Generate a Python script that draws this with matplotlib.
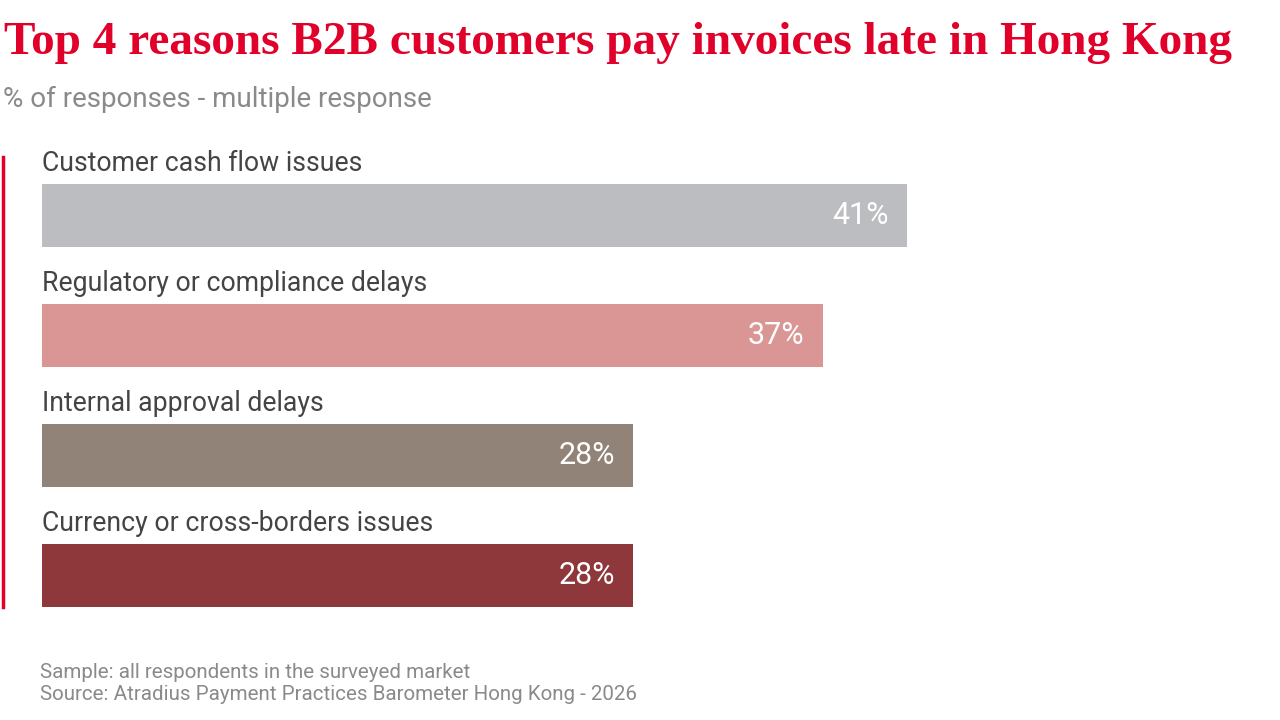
import matplotlib.pyplot as plt
from matplotlib.lines import Line2D

plt.rcParams['font.family'] = ['Roboto', 'DejaVu Sans']

reasons = ['Customer cash flow issues', 'Regulatory or compliance delays',
           'Internal approval delays', 'Currency or cross-borders issues']
values = [41, 37, 28, 28]
bar_colors = ['#bcbdc0', '#d99694', '#918378', '#8e383b']

title = 'Top 4 reasons B2B customers pay invoices late in Hong Kong'
subtitle = '% of responses - multiple response'
footer = ['Sample: all respondents in the surveyed market',
          'Source: Atradius Payment Practices Barometer Hong Kong - 2026']

W, H = 1280, 720
fig = plt.figure(figsize=(12.8, 7.2), dpi=100)

# axes in pixel terms: left 42, width 1200, top 155.5, height 480
ax = fig.add_axes([42 / W, 1 - 635.5 / H, 1200 / W, 480 / H])
px_per_unit = 21.1
ax.set_xlim(0, 1200 / px_per_unit)
ax.set_ylim(3.5, -0.5)
ax.axis('off')

ys = range(len(values))
ax.barh(list(ys), values, height=63 / 120, color=bar_colors, left=0)
for i, (lab, v) in enumerate(zip(reasons, values)):
    ax.text(0, i - 0.43, lab, ha='left', va='center', fontsize=19.2, color='#444444')
    ax.text(v - 18 / px_per_unit, i, f'{v}%', ha='right', va='center',
            fontsize=22, color='white')

# red accent line on the left
fig.add_artist(Line2D([3 / W, 3 / W], [1 - 157 / H, 1 - 607 / H],
                      transform=fig.transFigure, color='#e1002a', linewidth=2.5))

fig.text(4 / W, 1 - 43 / H, title, ha='left', va='center', fontsize=34,
         fontweight='bold', color='#e1002a', family=['Liberation Serif', 'DejaVu Serif'])
fig.text(3 / W, 1 - 99 / H, subtitle, ha='left', va='center', fontsize=20, color='#8a8a8a')
fig.text(40 / W, 1 - 672 / H, footer[0], ha='left', va='center', fontsize=14.8, color='#8a8a8a')
fig.text(40 / W, 1 - 695 / H, footer[1], ha='left', va='center', fontsize=14.8, color='#8a8a8a')

fig.savefig('out.png', dpi=100, facecolor='white')
